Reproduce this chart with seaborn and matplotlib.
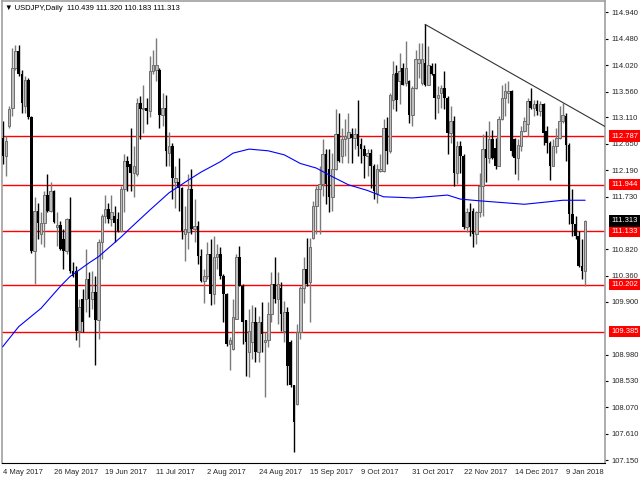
import matplotlib
matplotlib.use("Agg")
import matplotlib.pyplot as plt
import matplotlib.transforms as mtransforms
import pandas as pd
import seaborn as sns

# USDJPY daily candles, bar 0 = 4 May 2017 (weekdays only)
opens = [
    112.76, 112.44, 112.96, 113.28, 113.97, 114.26, 113.86, 113.31, 113.77, 113.12,
    110.79, 111.49, 111.08, 111.28, 111.77, 111.49, 111.83, 111.20, 111.24, 110.99,
    110.79, 111.35, 110.44, 110.44, 109.40, 109.95, 109.95, 110.30, 109.95, 110.07,
    109.58, 110.94, 111.40, 111.51, 111.34, 111.40, 111.34, 111.14, 111.86, 112.35,
    112.30, 112.15, 112.12, 113.37, 113.25, 113.28, 113.22, 113.92, 113.94, 113.94,
    113.16, 113.28, 112.50, 112.61, 111.98, 111.98, 111.89, 111.08, 111.11, 111.86,
    111.17, 111.23, 110.70, 110.27, 110.36, 110.73, 110.04, 110.68, 110.73, 110.36,
    110.04, 109.17, 109.09, 109.61, 110.68, 110.18, 109.58, 109.03, 109.20, 109.55,
    109.03, 109.55, 109.20, 109.23, 109.69, 110.21, 109.95, 110.15, 109.40, 109.72,
    109.20, 108.45, 108.13, 109.37, 110.15, 110.47, 110.24, 111.02, 111.57, 111.86,
    111.95, 112.47, 112.21, 111.72, 112.21, 112.82, 112.44, 112.73, 112.76, 112.82,
    112.76, 112.82, 112.65, 112.56, 112.44, 112.50, 112.27, 111.80, 112.18, 112.18,
    112.93, 112.53, 113.42, 113.89, 113.74, 113.97, 113.71, 113.74, 113.16, 113.63,
    114.06, 113.71, 114.06, 113.68, 114.00, 113.86, 113.45, 113.54, 113.63, 113.45,
    112.84, 113.05, 112.15, 112.61, 112.44, 111.20, 111.46, 111.49, 111.08, 111.46,
    111.92, 112.56, 112.41, 112.73, 112.58, 112.27, 113.08, 113.45, 113.54, 113.57,
    112.73, 112.41, 112.61, 112.87, 113.00, 113.40, 113.28, 113.34, 113.22, 113.34,
    112.87, 112.67, 112.27, 112.61, 112.76, 113.05, 113.13, 112.64, 111.43, 111.25,
    111.05, 110.53, 110.439,
]
highs = [
    113.05, 112.79, 113.31, 114.32, 114.38, 114.38, 113.94, 113.83, 113.80, 113.13,
    111.72, 111.63, 111.46, 111.83, 112.12, 111.98, 111.85, 111.46, 111.31, 111.17,
    111.36, 111.72, 110.59, 110.53, 109.95, 110.13, 110.82, 110.42, 110.44, 110.36,
    110.99, 111.43, 111.77, 111.63, 111.77, 111.57, 111.46, 111.92, 112.47, 112.44,
    112.93, 112.61, 113.45, 113.48, 113.68, 113.45, 114.18, 114.29, 114.49, 113.97,
    113.54, 113.51, 112.85, 112.67, 112.27, 112.41, 111.90, 111.57, 112.12, 112.21,
    111.69, 111.31, 110.82, 110.47, 110.94, 110.99, 111.05, 110.91, 110.85, 110.39,
    110.05, 109.29, 109.95, 110.73, 110.88, 110.21, 109.59, 109.78, 109.84, 109.81,
    109.66, 109.90, 109.37, 109.90, 110.42, 110.68, 110.42, 110.24, 109.92, 109.81,
    109.23, 108.46, 109.52, 110.18, 110.68, 111.02, 111.02, 111.66, 111.92, 112.27,
    112.73, 112.56, 112.56, 112.50, 113.25, 113.19, 112.93, 113.08, 113.19, 112.93,
    112.93, 113.42, 112.76, 112.64, 112.56, 112.56, 112.30, 112.30, 112.47, 113.08,
    113.11, 113.54, 114.09, 114.03, 114.23, 114.06, 114.44, 113.76, 113.66, 114.29,
    114.41, 114.41, 114.73, 114.35, 114.06, 114.06, 113.66, 113.68, 113.92, 113.48,
    113.31, 113.13, 112.70, 112.70, 112.47, 111.54, 111.63, 111.54, 111.49, 112.15,
    112.82, 112.87, 113.05, 112.90, 112.76, 113.13, 113.68, 113.71, 113.74, 113.58,
    112.76, 112.73, 112.96, 113.11, 113.45, 113.63, 113.42, 113.42, 113.40, 113.37,
    112.96, 112.70, 112.73, 112.93, 113.31, 113.37, 113.19, 112.67, 111.86, 111.40,
    111.14, 110.99, 111.320,
]
lows = [
    112.30, 112.09, 112.93, 113.13, 113.94, 113.83, 113.19, 113.19, 113.08, 110.76,
    110.21, 110.99, 110.91, 110.85, 111.46, 111.47, 111.28, 110.88, 110.80, 110.47,
    110.73, 110.41, 110.34, 109.23, 109.11, 109.37, 109.72, 109.63, 109.78, 108.80,
    109.26, 110.65, 111.28, 111.28, 111.23, 110.94, 111.11, 111.11, 111.46, 111.83,
    111.83, 111.72, 112.09, 112.73, 112.84, 112.99, 113.11, 113.86, 113.74, 112.93,
    112.96, 112.27, 112.27, 111.69, 111.54, 111.49, 110.99, 110.62, 110.82, 111.08,
    110.94, 110.56, 110.24, 109.89, 110.30, 109.84, 109.86, 110.47, 110.30, 109.55,
    109.14, 108.71, 109.06, 109.60, 110.17, 109.17, 108.62, 108.59, 108.91, 108.85,
    108.85, 109.03, 108.25, 109.11, 109.55, 109.89, 109.52, 109.40, 109.20, 108.45,
    108.42, 107.29, 108.10, 109.26, 109.89, 110.18, 109.55, 110.99, 111.08, 111.08,
    111.75, 111.60, 111.46, 111.49, 112.20, 112.34, 112.32, 112.44, 112.32, 112.32,
    112.56, 112.44, 112.32, 112.06, 112.09, 111.89, 111.69, 111.63, 112.16, 112.17,
    112.30, 112.50, 113.25, 113.22, 113.34, 113.67, 113.66, 113.02, 112.96, 113.60,
    113.80, 113.68, 113.66, 113.67, 113.85, 113.08, 113.19, 113.28, 113.25, 112.47,
    112.67, 111.92, 111.95, 112.15, 111.17, 111.11, 111.05, 110.85, 110.91, 111.37,
    111.40, 111.98, 112.32, 112.38, 112.21, 112.26, 113.07, 113.13, 113.37, 112.44,
    112.12, 112.03, 112.53, 112.85, 112.79, 113.25, 113.13, 113.16, 113.13, 112.64,
    112.50, 112.03, 112.26, 112.50, 112.73, 113.02, 112.35, 111.25, 111.05, 110.99,
    110.50, 110.30, 110.183,
]
closes = [
    112.44, 112.70, 113.25, 113.97, 114.26, 113.86, 113.37, 113.77, 113.11, 110.79,
    111.49, 111.28, 111.28, 111.77, 111.49, 111.83, 111.30, 111.24, 110.82, 110.79,
    111.35, 110.44, 110.36, 109.40, 109.81, 109.55, 110.30, 109.95, 110.07, 109.58,
    110.94, 111.40, 111.51, 111.34, 111.46, 111.28, 111.14, 111.86, 112.35, 112.24,
    112.15, 112.27, 113.37, 113.25, 113.28, 113.22, 113.92, 114.03, 114.03, 113.16,
    113.28, 112.53, 112.61, 112.06, 112.06, 111.89, 111.14, 111.17, 111.86, 111.17,
    111.23, 110.70, 110.27, 110.36, 110.73, 110.04, 110.68, 110.73, 110.36, 110.04,
    109.17, 109.23, 109.63, 110.68, 110.18, 109.55, 109.20, 109.40, 109.55, 109.03,
    109.55, 109.35, 109.23, 109.69, 110.21, 109.95, 110.21, 109.69, 109.72, 108.79,
    108.45, 107.81, 109.37, 110.15, 110.47, 110.21, 110.85, 111.57, 111.86, 111.95,
    112.47, 111.95, 111.72, 112.21, 112.82, 112.35, 112.73, 112.79, 112.85, 112.76,
    112.82, 112.61, 112.56, 112.44, 112.50, 112.27, 111.83, 112.21, 112.21, 112.93,
    112.53, 113.51, 113.86, 113.42, 113.92, 113.68, 113.97, 113.16, 113.63, 114.12,
    114.12, 114.12, 113.68, 114.03, 113.86, 113.45, 113.51, 113.63, 113.45, 112.84,
    113.05, 112.15, 112.61, 112.44, 111.20, 111.46, 111.20, 111.08, 111.46, 111.92,
    112.56, 112.41, 112.73, 112.41, 112.27, 113.08, 113.45, 113.57, 113.57, 112.53,
    112.41, 112.64, 112.87, 113.05, 113.40, 113.28, 113.34, 113.22, 113.34, 112.84,
    112.67, 112.27, 112.61, 112.76, 113.05, 113.16, 112.64, 111.43, 111.25, 111.05,
    110.53, 110.44, 111.313,
]

# moving average (bar index, price)
ma_bar = [0, 5, 12, 18, 21, 27, 30, 37, 40, 46, 52, 58, 62, 68, 72, 77, 83,
          88, 93, 98, 103, 108, 114, 119, 124, 128, 139, 143, 149, 163, 170, 175, 182]
ma_val = [109.12, 109.47, 109.79, 110.17, 110.34, 110.58, 110.69, 111.03, 111.19,
          111.50, 111.80, 112.02, 112.16, 112.34, 112.49, 112.56, 112.53, 112.46,
          112.31, 112.23, 112.08, 111.94, 111.84, 111.73, 111.72, 111.71, 111.76,
          111.69, 111.66, 111.60, 111.64, 111.67, 111.67]

# descending trend line
trend_bar = [132, 188.3]
trend_val = [114.73, 112.95]

# horizontal support / resistance levels
levels = [112.787, 111.944, 111.133, 110.202, 109.385]
last_price = 111.313

ytick_vals = [114.940, 114.480, 114.020, 113.560, 113.110, 112.650, 112.190, 111.730,
              110.820, 110.360, 109.900, 108.980, 108.530, 108.070, 107.610, 107.150]
xtick_bars = [0, 16, 32, 48, 64, 80, 96, 112, 128, 144, 160, 176]
xtick_labels = ["4 May 2017", "26 May 2017", "19 Jun 2017", "11 Jul 2017", "2 Aug 2017",
                "24 Aug 2017", "15 Sep 2017", "9 Oct 2017", "31 Oct 2017", "22 Nov 2017",
                "14 Dec 2017", "9 Jan 2018"]

assert len(opens) == len(highs) == len(lows) == len(closes)

df = pd.DataFrame({"bar": range(len(opens)), "open": opens, "high": highs,
                   "low": lows, "close": closes})
df["up"] = df["close"] >= df["open"]

sns.set_style("white")
plt.rcParams["font.family"] = ["Liberation Sans", "DejaVu Sans"]
FS = 5.5

fig = plt.figure(figsize=(6.4, 4.8), dpi=100)
ax = fig.add_axes([2 / 640, 17 / 480, 603 / 640, 462 / 480])

up = df[df["up"]]
dn = df[~df["up"]]
ax.vlines(up["bar"], up["low"], up["high"], color="#7a7a7a", lw=1.0, zorder=2)
ax.vlines(dn["bar"], dn["low"], dn["high"], color="black", lw=1.0, zorder=2)
ax.bar(up["bar"], up["close"] - up["open"], bottom=up["open"], width=0.8,
       facecolor="#bdbdbd", edgecolor="#6e6e6e", lw=0.7, zorder=3)
ax.bar(dn["bar"], dn["open"] - dn["close"], bottom=dn["close"], width=0.8,
       color="black", lw=0, zorder=3)

for lv in levels:
    ax.axhline(lv, color="red", lw=1, zorder=1)

sns.lineplot(x=ma_bar, y=ma_val, color="blue", lw=0.8, ax=ax, zorder=4)
sns.lineplot(x=trend_bar, y=trend_val, color="#333333", lw=0.8, ax=ax, zorder=4)

ax.set_xlim(-0.2, 188.2)
ax.set_ylim(107.098, 115.137)

ax.yaxis.tick_right()
ax.set_yticks(ytick_vals)
ax.set_yticklabels([f"{v:.3f}" for v in ytick_vals])
ax.tick_params(axis="y", length=2, width=0.8, pad=2.5, labelsize=FS, color="black")
ax.set_xticks(xtick_bars)
ax.set_xticklabels(xtick_labels, ha="left")
ax.tick_params(axis="x", length=3, width=0.8, pad=1.5, labelsize=FS, color="black")

for side in ["left", "right", "top"]:
    ax.spines[side].set_color("#a0a0a0")
    ax.spines[side].set_linewidth(1.2)
ax.spines["bottom"].set_color("black")
ax.spines["bottom"].set_linewidth(0.8)

trans = mtransforms.blended_transform_factory(ax.transAxes, ax.transData)
for lv in levels:
    ax.text(1.01, lv, f"{lv:.3f}", transform=trans, ha="left", va="center",
            fontsize=FS, color="white", zorder=10, clip_on=False,
            bbox=dict(boxstyle="square,pad=0.3", facecolor="red", edgecolor="none"))
ax.text(1.01, last_price, f"{last_price:.3f}", transform=trans, ha="left", va="center",
        fontsize=FS, color="white", zorder=10, clip_on=False,
        bbox=dict(boxstyle="square,pad=0.3", facecolor="black", edgecolor="none"))

fig.text(5 / 640, 1 - 9 / 480, "\u25bc USDJPY,Daily  110.439 111.320 110.183 111.313",
         ha="left", va="center", fontsize=FS, color="black")

fig.savefig("out.png", dpi=100, facecolor="white")
